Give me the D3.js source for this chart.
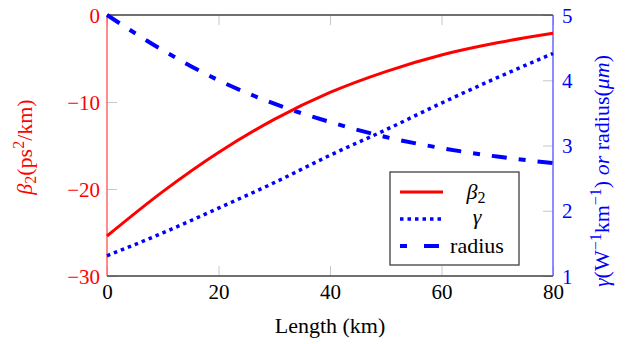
<!DOCTYPE html>
<html>
<head>
<meta charset="utf-8">
<script src="https://cdnjs.cloudflare.com/ajax/libs/d3/7.8.5/d3.min.js"></script>
</head>
<body style="margin:0">
<svg class="chart" width="625" height="344" font-family="Liberation Serif"></svg>
<script>
// values
var lengths = [0,10,20,30,40,50,60,70,80];
var beta2 = [-25.4,-20.3,-15.8,-12.0,-8.9,-6.5,-4.6,-3.2,-2.1];
var gamma = [1.31,1.66,2.04,2.43,2.85,3.24,3.65,4.04,4.41];
var radius = [5.0,4.46,4.0,3.64,3.36,3.13,2.96,2.83,2.73];
var xTicks = [0,20,40,60,80];
var leftTicks = [0,-10,-20,-30];
var rightTicks = [1,2,3,4,5];

var drawGraph = function(w,h,c)
{
  var screen = {width:w,height:h};
  var margins = {top:15,bottom:68,left:107,right:72};
  var width = screen.width - margins.left - margins.right;
  var height = screen.height - margins.top - margins.bottom;

  var svg = d3.select(c);

  var xScale = d3.scaleLinear().domain([0,80]).range([0,width]);
  var yLeft = d3.scaleLinear().domain([-30,0]).range([height,0]);
  var yRight = d3.scaleLinear().domain([1,5]).range([height,0]);

  var plot = svg.append("g")
                .attr("transform","translate("+margins.left+","+margins.top+")");

  var fmt = function(d){return d<0 ? "\u2212"+Math.abs(d) : ""+d;};

  // tick marks (inside, grey)
  var xAxis = d3.axisBottom(xScale).tickValues(xTicks).tickSize(-10).tickPadding(8).tickFormat(fmt);
  var xTop = d3.axisTop(xScale).tickValues(xTicks).tickSize(-10).tickFormat("");
  var lAxis = d3.axisLeft(yLeft).tickValues(leftTicks).tickSize(-10).tickPadding(7).tickFormat(fmt);
  var rAxis = d3.axisRight(yRight).tickValues(rightTicks).tickSize(-10).tickPadding(9).tickFormat(fmt);

  plot.append("g").attr("class","xAxis").attr("transform","translate(0,"+height+")").call(xAxis);
  plot.append("g").attr("class","xTop").call(xTop);
  plot.append("g").attr("class","lAxis").call(lAxis);
  plot.append("g").attr("class","rAxis").attr("transform","translate("+width+",0)").call(rAxis);

  plot.selectAll(".xAxis,.xTop,.lAxis,.rAxis").attr("font-family",null).attr("font-size",null);
  plot.selectAll(".domain").remove();
  plot.selectAll(".tick line").attr("stroke","#c8c8c8").attr("stroke-width",1);
  plot.selectAll(".tick text").attr("font-size",21);
  plot.select(".xAxis").selectAll(".tick text").attr("fill","#000");
  plot.select(".lAxis").selectAll(".tick text").attr("fill","#ff0000").attr("dy","0.34em");
  plot.select(".rAxis").selectAll(".tick text").attr("fill","#0000ff").attr("dy","0.34em");

  // frame
  plot.append("line").attr("x1",0).attr("x2",width).attr("y1",0).attr("y2",0)
      .attr("stroke","#404040").attr("stroke-width",1.3);
  plot.append("line").attr("x1",0).attr("x2",width).attr("y1",height).attr("y2",height)
      .attr("stroke","#404040").attr("stroke-width",1.3);
  plot.append("line").attr("x1",0).attr("x2",0).attr("y1",0).attr("y2",height)
      .attr("stroke","#ff5050").attr("stroke-width",1.3);
  plot.append("line").attr("x1",width).attr("x2",width).attr("y1",0).attr("y2",height)
      .attr("stroke","#5050ff").attr("stroke-width",1.3);

  var lineL = d3.line().curve(d3.curveMonotoneX)
                .x(function(d,i){return xScale(lengths[i])})
                .y(function(d){return yLeft(d)});
  var lineR = d3.line().curve(d3.curveMonotoneX)
                .x(function(d,i){return xScale(lengths[i])})
                .y(function(d){return yRight(d)});

  plot.append("path").datum(radius).attr("d",lineR)
      .attr("fill","none").attr("stroke","#0000ff").attr("stroke-width",4)
      .attr("stroke-dasharray","15,12,7,12");
  plot.append("path").datum(gamma).attr("d",lineR)
      .attr("fill","none").attr("stroke","#0000ff").attr("stroke-width",3.5)
      .attr("stroke-dasharray","3.5,4");
  plot.append("path").datum(beta2).attr("d",lineL)
      .attr("fill","none").attr("stroke","#ff0000").attr("stroke-width",3);

  // legend
  var leg = svg.append("g").attr("transform","translate(390,172)");
  leg.append("rect").attr("width",129).attr("height",93)
     .attr("fill","#fff").attr("stroke","#404040").attr("stroke-width",1.3);
  var items = [
    {stroke:"#ff0000",w:3,dash:null},
    {stroke:"#0000ff",w:3.5,dash:"3.5,4"},
    {stroke:"#0000ff",w:4,dash:"7,17,15,12"}
  ];
  items.forEach(function(it,i){
    var y = 20 + i*27;
    leg.append("line").attr("x1",10).attr("x2",53).attr("y1",y).attr("y2",y)
       .attr("stroke",it.stroke).attr("stroke-width",it.w)
       .attr("stroke-dasharray",it.dash);
  });
  var t1 = leg.append("text").attr("x",86).attr("y",27).attr("font-size",22).attr("text-anchor","middle");
  t1.append("tspan").attr("font-style","italic").text("β");
  t1.append("tspan").attr("font-size",16).attr("dy",4).text("2");
  leg.append("text").attr("x",87).attr("y",52).attr("font-size",22).attr("text-anchor","middle")
     .attr("font-style","italic").text("γ");
  leg.append("text").attr("x",87).attr("y",81).attr("font-size",22).attr("text-anchor","middle")
     .text("radius");

  // axis titles
  svg.append("text").attr("x",margins.left+width/2).attr("y",333)
     .attr("text-anchor","middle").attr("font-size",22).text("Length (km)");

  var lt = svg.append("text").attr("transform","translate(32,147) rotate(-90)")
              .attr("text-anchor","middle").attr("font-size",22).attr("fill","#ff0000");
  lt.append("tspan").attr("font-style","italic").text("β");
  lt.append("tspan").attr("font-size",16).attr("dy",4).text("2");
  lt.append("tspan").attr("dy",-4).text("(ps");
  lt.append("tspan").attr("font-size",16).attr("dy",-8).text("2");
  lt.append("tspan").attr("dy",8).text("/km)");

  var rt = svg.append("text").attr("transform","translate(609,171) rotate(-90)")
              .attr("text-anchor","middle").attr("font-size",22).attr("fill","#0000ff");
  rt.append("tspan").attr("font-style","italic").text("γ");
  rt.append("tspan").text("(W");
  rt.append("tspan").attr("font-size",16).attr("dy",-8).text("\u22121");
  rt.append("tspan").attr("dy",8).text("km");
  rt.append("tspan").attr("font-size",16).attr("dy",-8).text("\u22121");
  rt.append("tspan").attr("dy",8).text(") ");
  rt.append("tspan").attr("font-style","italic").text("or");
  rt.append("tspan").text(" radius(");
  rt.append("tspan").attr("font-style","italic").text("μm");
  rt.append("tspan").text(")");
}

drawGraph(625,344,".chart");
</script>
</body>
</html>
